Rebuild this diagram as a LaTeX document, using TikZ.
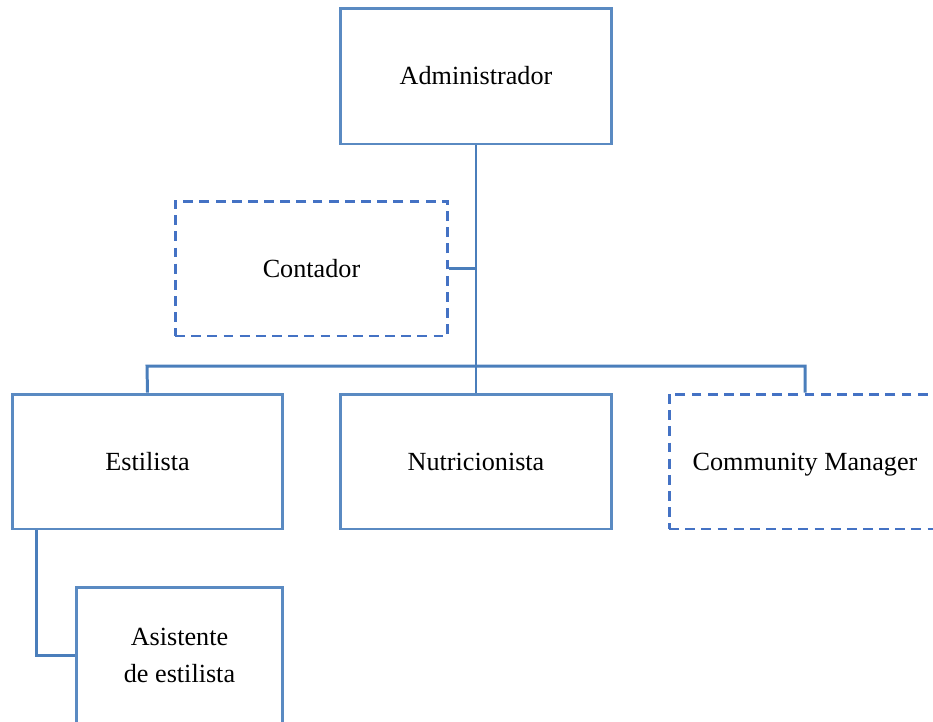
\documentclass[tikz,border=0pt]{standalone}
\usepackage{fontspec}
\setmainfont{Liberation Serif}
\definecolor{boxblue}{HTML}{5A8AC2}
\definecolor{dashblue}{HTML}{4472C4}
\definecolor{lineblue}{HTML}{4A7EBB}
\begin{document}
\begin{tikzpicture}[x=0.02cm,y=-0.02cm,
  orgbox/.style={draw=boxblue, line width=1.7pt, rectangle, inner sep=0pt,
    align=center, font=\fontsize{14.9}{21}\selectfont},
  dashbox/.style={orgbox, draw=dashblue, dash pattern=on 5.6pt off 3.6pt},
  conn/.style={draw=lineblue, line width=1.7pt}]
\path[use as bounding box, clip] (0,0) rectangle (933,721);
\node[orgbox, minimum width=5.44cm, minimum height=2.72cm] (adm) at (476,76) {Administrador};
\node[dashbox, minimum width=5.46cm, minimum height=2.70cm] (cont) at (311.5,268.5) {Contador};
\node[orgbox, minimum width=5.42cm, minimum height=2.70cm] (est) at (147.5,461.5) {Estilista};
\node[orgbox, minimum width=5.44cm, minimum height=2.70cm] (nut) at (476,461.5) {Nutricionista};
\node[dashbox, minimum width=5.44cm, minimum height=2.70cm, text depth=0pt] (cm) at (805,461.5) {Community Manager};
\node[orgbox, minimum width=4.14cm, minimum height=2.72cm] (asis) at (179.5,655) {Asistente\\de estilista};
\coordinate (busL) at (147,366);
\coordinate (busM) at (476,366);
\coordinate (busR) at (805,366);
\draw[conn] (adm.south) -- (busM);
\draw[conn] (est.north) -- (busL) -- (busR) -- (cm.north);
\draw[conn] (busM) -- (nut.north);
\draw[conn] (cont.east) -- (cont.east -| adm.south);
\draw[conn] (est.south west) ++(26,0) |- (asis.west);
\end{tikzpicture}
\end{document}
